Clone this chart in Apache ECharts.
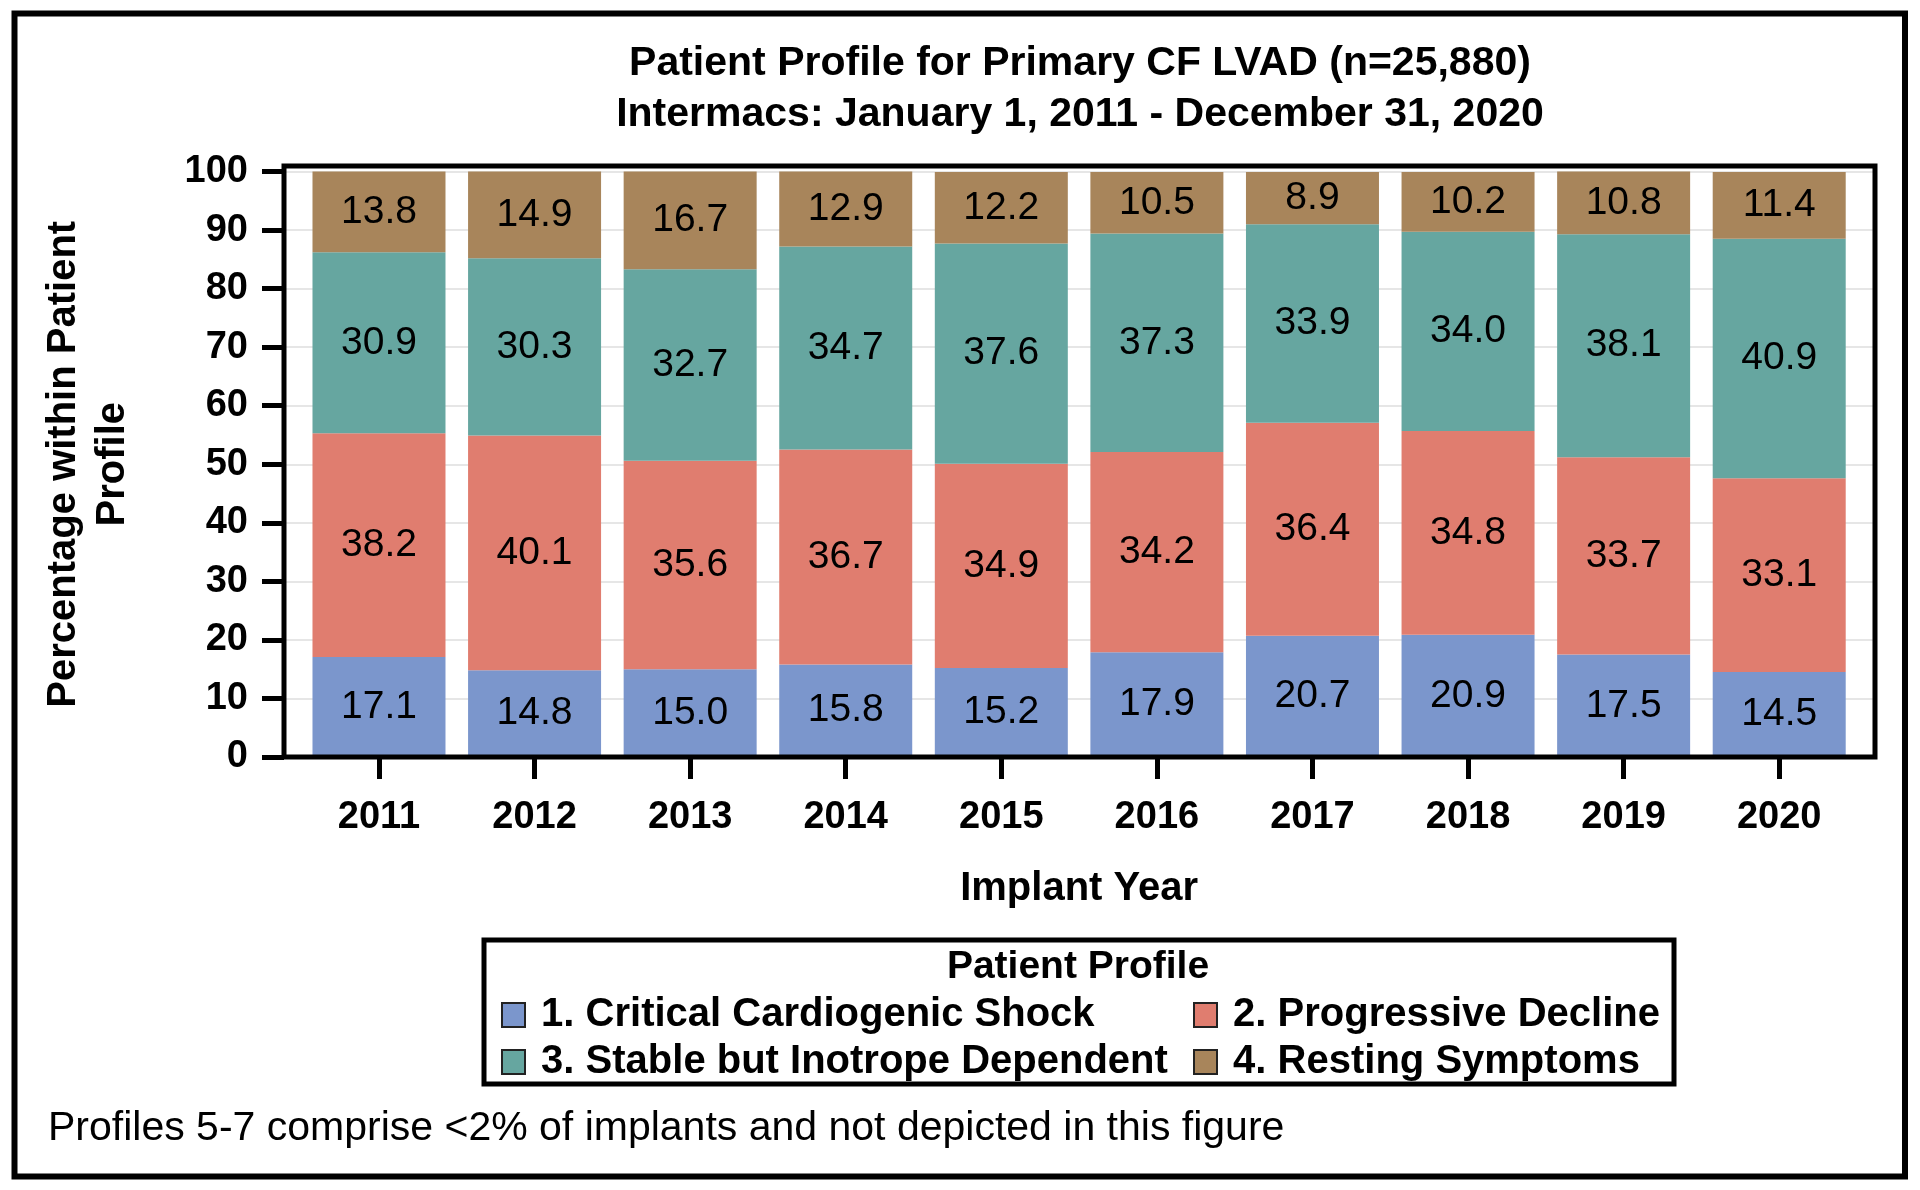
<!DOCTYPE html>
<html>
<head>
<meta charset="utf-8">
<script src="https://cdn.jsdelivr.net/npm/echarts@6/dist/echarts.min.js"></script>
<style>
html,body{margin:0;padding:0;background:#fff;}
#chart{width:1920px;height:1190px;}
</style>
</head>
<body>
<div id="chart"></div>
<script>
const years = ['2011','2012','2013','2014','2015','2016','2017','2018','2019','2020'];
const seriesNames = ['1. Critical Cardiogenic Shock','2. Progressive Decline','3. Stable but Inotrope Dependent','4. Resting Symptoms'];
const shock   = [17.1,14.8,15.0,15.8,15.2,17.9,20.7,20.9,17.5,14.5];
const decline = [38.2,40.1,35.6,36.7,34.9,34.2,36.4,34.8,33.7,33.1];
const stable  = [30.9,30.3,32.7,34.7,37.6,37.3,33.9,34.0,38.1,40.9];
const resting = [13.8,14.9,16.7,12.9,12.2,10.5,8.9,10.2,10.8,11.4];
const yTicks = [0,10,20,30,40,50,60,70,80,90,100];
const colors = ['#7B96CC','#E07D6F','#66A6A0','#A8855B'];
const FONT = "'Liberation Sans', Arial, Helvetica, sans-serif";

const chart = echarts.init(document.getElementById('chart'), null, {renderer:'canvas'});
const dataSets = [shock, decline, stable, resting];

const series = dataSets.map((d, i) => ({
  name: seriesNames[i],
  type: 'bar',
  stack: 'total',
  xAxisIndex: 1,
  yAxisIndex: 1,
  barWidth: 133,
  data: d,
  itemStyle: {color: colors[i], borderWidth: 0},
  label: {
    show: true,
    position: 'inside',
    formatter: p => Number(p.value).toFixed(1),
    fontSize: 39,
    fontFamily: FONT,
    color: '#000',
    textBorderWidth: 0
  },
  emphasis: {disabled: true}
}));

function legendAt(name, left, top) {
  return {
    data: [name],
    left: left, top: top,
    padding: 0,
    orient: 'horizontal',
    icon: 'rect',
    itemWidth: 23, itemHeight: 24,
    selectedMode: false,
    formatter: ' {name}',
    itemStyle: {borderColor: '#222', borderWidth: 2},
    textStyle: {fontSize: 40, fontWeight: 'bold', fontFamily: FONT, color: '#000', lineHeight: 40}
  };
}

const option = {
  backgroundColor: '#fff',
  animation: false,
  title: [
    {
      text: 'Patient Profile for Primary CF LVAD (n=25,880)\nIntermacs: January 1, 2011 - December 31, 2020',
      left: 1080, top: 38, textAlign: 'center', padding: 0,
      textStyle: {fontSize: 41, fontWeight: 'bold', fontFamily: FONT, color: '#000', lineHeight: 51}
    },
    {
      text: 'Patient Profile',
      left: 1078, top: 947, textAlign: 'center', padding: 0,
      textStyle: {fontSize: 39, fontWeight: 'bold', fontFamily: FONT, color: '#000', lineHeight: 40}
    },
    {
      text: 'Profiles 5-7 comprise <2% of implants and not depicted in this figure',
      left: 48, top: 1108.5, padding: 0,
      textStyle: {fontSize: 41, fontWeight: 'normal', fontFamily: FONT, color: '#000', lineHeight: 40}
    }
  ],
  legend: [
    legendAt(seriesNames[0], 501, 995),
    legendAt(seriesNames[1], 1193, 995),
    legendAt(seriesNames[2], 501, 1042),
    legendAt(seriesNames[3], 1193, 1042)
  ],
  grid: [
    {left: 284, right: 45, top: 171.5, bottom: 433, outerBoundsMode: 'none'},
    {left: 301.2, right: 63, top: 171.5, bottom: 433, outerBoundsMode: 'none'}
  ],
  xAxis: [
    {type: 'value', gridIndex: 0, show: false, min: 0, max: 1},
    {
      type: 'category', gridIndex: 1, data: years,
      axisLine: {show: false},
      axisTick: {show: true, alignWithLabel: true, length: 22, lineStyle: {color: '#000', width: 5}},
      axisLabel: {margin: 42, fontSize: 38, fontWeight: 'bold', fontFamily: FONT, color: '#000', lineHeight: 38},
      splitLine: {show: false},
      name: 'Implant Year', nameLocation: 'middle', nameGap: 112,
      nameTextStyle: {fontSize: 40, fontWeight: 'bold', fontFamily: FONT, color: '#000', lineHeight: 40}
    }
  ],
  yAxis: [
    {
      type: 'value', gridIndex: 0, min: yTicks[0], max: yTicks[yTicks.length-1], interval: 10,
      axisLine: {show: false},
      axisTick: {show: true, inside: false, length: 22, lineStyle: {color: '#000', width: 5}},
      axisLabel: {margin: 36, fontSize: 38, fontWeight: 'bold', fontFamily: FONT, color: '#000'},
      splitLine: {show: true, lineStyle: {color: '#e6e6e6', width: 2}},
      name: 'Percentage within Patient\nProfile', nameLocation: 'middle', nameRotate: 90, nameGap: 147,
      nameTextStyle: {fontSize: 40, fontWeight: 'bold', fontFamily: FONT, color: '#000', lineHeight: 49}
    },
    {type: 'value', gridIndex: 1, min: 0, max: 100, show: false}
  ],
  series: series,
  graphic: [
    {type: 'rect', z: 100, silent: true, shape: {x: 14.5, y: 13.5, width: 1890.5, height: 1163},
     style: {fill: 'none', stroke: '#000', lineWidth: 6}},
    {type: 'rect', z: 100, silent: true, shape: {x: 284, y: 166, width: 1591, height: 591},
     style: {fill: 'none', stroke: '#000', lineWidth: 5}},
    {type: 'rect', z: 100, silent: true, shape: {x: 484, y: 940, width: 1190, height: 144},
     style: {fill: 'none', stroke: '#000', lineWidth: 5}}
  ]
};
chart.setOption(option);
</script>
</body>
</html>
